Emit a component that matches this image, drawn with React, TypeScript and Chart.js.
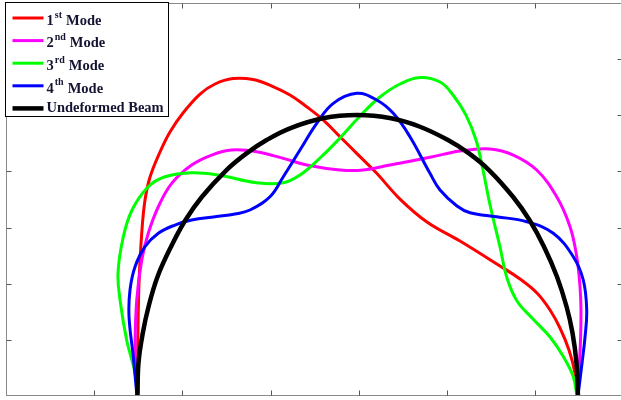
import React, { useEffect, useRef } from "react";
import { Chart, registerables } from "chart.js";

Chart.register(...registerables);

// Axis ticks (no labels shown, MATLAB style inward ticks)
const xTickValues = [1, 2, 3, 4, 5, 6];
const yTickValues = [1, 2, 3, 4, 5, 6];
const xMin = 0, xMax = 7, yMin = 0, yMax = 7;

// Legend text pieces
const legendMain = ["1", "2", "3", "4", "Undeformed Beam"];
const legendSup = ["st", "nd", "rd", "th", ""];
const legendTail = ["Mode", "Mode", "Mode", "Mode", ""];
const seriesLabels = ["1st Mode", "2nd Mode", "3rd Mode", "4th Mode", "Undeformed Beam"];
const seriesColors = ["#ff0000", "#ff00ff", "#00ff00", "#0000ff", "#000000"];
const seriesWidths = [3, 3, 3, 3, 4.5];

// 1st Mode (red)
const mode1X = [1.485, 1.489, 1.493, 1.508, 1.539, 1.576, 1.633, 1.746, 1.859, 2.007, 2.2, 2.37, 2.574, 2.8, 3.027, 3.22, 3.409, 3.598, 3.787, 3.976, 4.203, 4.467, 4.773, 5.147, 5.601, 5.828, 6.02, 6.168, 6.281, 6.383, 6.451, 6.485];
const mode1Y = [0, 0.463, 0.819, 2.012, 2.903, 3.491, 3.9, 4.346, 4.702, 5.04, 5.378, 5.557, 5.654, 5.637, 5.512, 5.361, 5.152, 4.915, 4.618, 4.322, 3.966, 3.508, 3.099, 2.76, 2.315, 2.084, 1.834, 1.532, 1.211, 0.819, 0.41, 0];

// 2nd Mode (magenta)
const mode2X = [1.485, 1.474, 1.463, 1.482, 1.539, 1.613, 1.727, 1.879, 2.105, 2.332, 2.559, 2.842, 3.144, 3.409, 3.787, 4.051, 4.354, 4.807, 5.147, 5.488, 5.752, 6.017, 6.244, 6.395, 6.471, 6.508, 6.519, 6.514, 6.497, 6.485];
const mode2Y = [0, 0.463, 0.819, 1.71, 2.422, 2.898, 3.371, 3.788, 4.114, 4.292, 4.381, 4.351, 4.233, 4.114, 4.025, 4.025, 4.114, 4.251, 4.363, 4.399, 4.292, 4.025, 3.549, 3.015, 2.481, 1.947, 1.532, 0.997, 0.463, 0];

// 3rd Mode (green)
const mode3X = [1.485, 1.463, 1.368, 1.293, 1.27, 1.327, 1.429, 1.613, 1.803, 2.105, 2.407, 2.842, 3.144, 3.333, 3.56, 3.787, 4.014, 4.24, 4.467, 4.694, 4.921, 5.068, 5.215, 5.329, 5.408, 5.488, 5.601, 5.68, 5.794, 5.975, 6.168, 6.315, 6.429, 6.474];
const mode3Y = [0, 0.41, 0.997, 1.71, 2.191, 2.814, 3.313, 3.728, 3.906, 3.977, 3.936, 3.799, 3.799, 3.936, 4.239, 4.595, 4.987, 5.325, 5.557, 5.672, 5.592, 5.361, 5.004, 4.559, 4.025, 3.402, 2.654, 2.102, 1.692, 1.371, 1.051, 0.712, 0.356, 0];

// 4th Mode (blue)
const mode4X = [1.485, 1.443, 1.395, 1.406, 1.463, 1.576, 1.727, 1.916, 2.105, 2.37, 2.596, 2.766, 2.993, 3.144, 3.333, 3.523, 3.711, 3.976, 4.203, 4.391, 4.58, 4.807, 4.921, 5.113, 5.261, 5.563, 5.904, 6.205, 6.432, 6.545, 6.584, 6.565, 6.531, 6.485];
const mode4Y = [0, 0.7, 1.412, 1.888, 2.303, 2.659, 2.898, 3.045, 3.134, 3.193, 3.241, 3.313, 3.549, 3.906, 4.381, 4.857, 5.213, 5.391, 5.272, 5.035, 4.618, 3.966, 3.669, 3.384, 3.264, 3.193, 3.104, 2.898, 2.481, 2.066, 1.532, 1.051, 0.588, 0];

// Undeformed beam (black)
const beamX = [1.491, 1.502, 1.551, 1.616, 1.718, 1.871, 2.035, 2.222, 2.5, 2.727, 2.955, 3.22, 3.594, 3.98, 4.365, 4.694, 5.011, 5.249, 5.476, 5.748, 5.935, 6.1, 6.247, 6.356, 6.423, 6.468, 6.485];
const beamY = [0, 0.588, 1.122, 1.59, 2.125, 2.659, 3.134, 3.549, 4.025, 4.322, 4.559, 4.768, 4.946, 5.004, 4.946, 4.796, 4.559, 4.322, 4.025, 3.549, 3.134, 2.659, 2.125, 1.59, 1.122, 0.588, 0];

const allX = [mode1X, mode2X, mode3X, mode4X, beamX];
const allY = [mode1Y, mode2Y, mode3Y, mode4Y, beamY];

const frameAndTicks = {
  id: "frameAndTicks",
  afterDatasetsDraw(chart: any) {
    const { ctx, chartArea } = chart;
    const xs = chart.scales.x;
    const ys = chart.scales.y;
    const L = Math.round(chartArea.left) + 0.5;
    const R = Math.round(chartArea.right) - 0.5;
    const T = Math.round(chartArea.top) + 0.5;
    const B = Math.round(chartArea.bottom) - 0.5;
    ctx.save();
    ctx.strokeStyle = "#8a8a8a";
    ctx.lineWidth = 1;
    ctx.strokeRect(L, T, R - L, B - T);
    ctx.strokeStyle = "#555555";
    const tl = 5;
    ctx.beginPath();
    xTickValues.forEach((v) => {
      const px = Math.round(xs.getPixelForValue(v)) + 0.5;
      ctx.moveTo(px, B);
      ctx.lineTo(px, B - tl);
      ctx.moveTo(px, T);
      ctx.lineTo(px, T + tl);
    });
    yTickValues.forEach((v) => {
      const py = Math.round(ys.getPixelForValue(v)) + 0.5;
      ctx.moveTo(L, py);
      ctx.lineTo(L + tl, py);
      ctx.moveTo(R, py);
      ctx.lineTo(R - tl, py);
    });
    ctx.stroke();
    ctx.restore();
  },
};

const matlabLegend = {
  id: "matlabLegend",
  afterDraw(chart: any) {
    const { ctx, chartArea } = chart;
    const left = Math.round(chartArea.left) - 0.5;
    const top = Math.round(chartArea.top) - 0.5;
    const w = 163;
    const h = 114;
    ctx.save();
    ctx.fillStyle = "#ffffff";
    ctx.fillRect(left, top, w, h);
    ctx.strokeStyle = "#000000";
    ctx.lineWidth = 1;
    ctx.strokeRect(left, top, w, h);
    const rowY0 = top + 15.5;
    const rowStep = 22.6;
    const mainFont = "bold 14.5px 'Liberation Serif', 'Times New Roman', serif";
    const supFont = "bold 10px 'Liberation Serif', 'Times New Roman', serif";
    legendMain.forEach((main, i) => {
      const y = rowY0 + rowStep * i;
      ctx.strokeStyle = seriesColors[i];
      ctx.lineWidth = seriesWidths[i];
      ctx.beginPath();
      ctx.moveTo(left + 7, y);
      ctx.lineTo(left + 38, y);
      ctx.stroke();
      ctx.fillStyle = "#141432";
      ctx.textBaseline = "middle";
      let x = left + 41;
      const sup = legendSup[i];
      const ty = sup ? y + 3 : y;
      ctx.font = mainFont;
      ctx.fillText(main, x, ty);
      x += ctx.measureText(main).width + 1;
      if (sup) {
        ctx.font = supFont;
        ctx.fillText(sup, x, ty - 6);
        x += ctx.measureText(sup).width + 4;
        ctx.font = mainFont;
        ctx.fillText(legendTail[i], x, ty);
      }
    });
    ctx.restore();
  },
};

export default function App() {
  const ref = useRef<HTMLCanvasElement | null>(null);
  useEffect(() => {
    if (!ref.current) return;
    const datasets = allX.map((xs, i) => ({
      label: seriesLabels[i],
      data: xs.map((x, j) => ({ x, y: allY[i][j] })),
      borderColor: seriesColors[i],
      backgroundColor: seriesColors[i],
      borderWidth: seriesWidths[i],
      showLine: true,
      pointRadius: 0,
      tension: 0.4,
      fill: false,
      order: 5 - i,
    }));
    const chart = new Chart(ref.current, {
      type: "scatter",
      data: { datasets },
      options: {
        responsive: false,
        animation: false,
        layout: { padding: { left: 6, top: 3, right: 8.6, bottom: 4 } },
        plugins: { legend: { display: false }, tooltip: { enabled: false } },
        scales: {
          x: { type: "linear", min: xMin, max: xMax, display: false },
          y: { type: "linear", min: yMin, max: yMax, display: false },
        },
      },
      plugins: [frameAndTicks, matlabLegend],
    });
    return () => chart.destroy();
  }, []);
  return (
    <div style={{ position: "fixed", left: 0, top: 0, width: 621, height: 400, overflow: "hidden", background: "#fff" }}>
      <canvas ref={ref} width={632} height={400} style={{ display: "block" }} />
    </div>
  );
}
